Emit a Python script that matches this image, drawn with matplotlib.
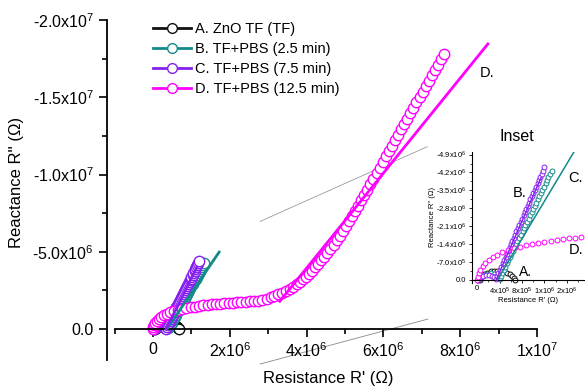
import matplotlib
matplotlib.use('Agg')
import numpy as np
import matplotlib.pyplot as plt
from matplotlib.lines import Line2D
from matplotlib.ticker import MultipleLocator

plt.rcParams['font.family'] = ['Liberation Sans', 'DejaVu Sans']
plt.rcParams['mathtext.fontset'] = 'custom'
plt.rcParams['mathtext.rm'] = 'Liberation Sans'
plt.rcParams['mathtext.it'] = 'Liberation Sans:italic'
plt.rcParams['mathtext.bf'] = 'Liberation Sans:bold'

# ---- data (values in MOhm) ----
a_x = [0.05, 0.06, 0.09, 0.13, 0.18, 0.24, 0.30, 0.36, 0.42, 0.48, 0.54, 0.59, 0.63, 0.66, 0.68]
a_y = [0.0, -0.08, -0.16, -0.23, -0.29, -0.33, -0.35, -0.36, -0.35, -0.33, -0.28, -0.22, -0.15, -0.08, 0.0]

b_x = [0.02, 0.05, 0.10, 0.17, 0.24, 0.31, 0.36, 0.40,
       0.42, 0.45, 0.48, 0.50, 0.53, 0.56, 0.59, 0.61, 0.64, 0.67, 0.70, 0.72, 0.75, 0.78, 0.81, 0.83,
       0.86, 0.89, 0.92, 0.94, 0.97, 1.00, 1.03, 1.05, 1.08, 1.11, 1.14, 1.16, 1.19, 1.22, 1.25, 1.27,
       1.30, 1.33]
b_y = [0.0, -0.12, -0.20, -0.25, -0.26, -0.22, -0.14, -0.05,
       -0.15, -0.27, -0.40, -0.52, -0.65, -0.77, -0.90, -1.02, -1.15, -1.27, -1.40, -1.52, -1.65, -1.77,
       -1.90, -2.02, -2.15, -2.27, -2.40, -2.52, -2.65, -2.77, -2.90, -3.02, -3.15, -3.27, -3.40, -3.52,
       -3.65, -3.77, -3.90, -4.02, -4.15, -4.27]

c_x = [0.02, 0.05, 0.10, 0.16, 0.22, 0.27, 0.31, 0.33,
       0.36, 0.38, 0.41, 0.43, 0.46, 0.48, 0.51, 0.53, 0.56, 0.58, 0.60, 0.63, 0.65, 0.68, 0.70, 0.73,
       0.75, 0.78, 0.80, 0.83, 0.85, 0.88, 0.90, 0.93, 0.95, 0.98, 1.00, 1.03, 1.05, 1.08, 1.10, 1.13,
       1.15, 1.18, 1.20]
c_y = [0.0, -0.10, -0.17, -0.21, -0.21, -0.17, -0.10, -0.02,
       -0.15, -0.27, -0.40, -0.52, -0.65, -0.77, -0.90, -1.02, -1.15, -1.27, -1.40, -1.52, -1.65, -1.77,
       -1.90, -2.02, -2.15, -2.27, -2.40, -2.52, -2.65, -2.77, -2.90, -3.02, -3.15, -3.27, -3.40, -3.52,
       -3.65, -3.77, -3.90, -4.02, -4.15, -4.27, -4.40]

d_x = [0.00, 0.01, 0.03, 0.06, 0.10, 0.15, 0.21, 0.28, 0.36, 0.45, 0.55, 0.65, 0.76, 0.87, 0.98,
       1.09, 1.20, 1.31, 1.42, 1.53, 1.64, 1.75, 1.86, 1.97, 2.08, 2.19, 2.30, 2.41, 2.52, 2.63, 2.74,
       2.85, 2.96, 3.06, 3.16, 3.26, 3.36, 3.46, 3.56, 3.65, 3.74, 3.82, 3.90, 3.98, 4.06, 4.14, 4.22,
       4.30, 4.38, 4.46, 4.54, 4.62, 4.70, 4.78, 4.86, 4.94, 5.02, 5.10, 5.18, 5.26, 5.34, 5.42, 5.50,
       5.58, 5.66, 5.74, 5.82, 5.90, 5.98, 6.06, 6.14, 6.22, 6.30, 6.38, 6.46, 6.54, 6.62, 6.70, 6.78,
       6.86, 6.94, 7.02, 7.10, 7.18, 7.26, 7.34, 7.42, 7.50, 7.58]
d_y = [0.00, -0.12, -0.26, -0.40, -0.53, -0.66, -0.78, -0.89, -0.99, -1.08, -1.16, -1.23, -1.30,
       -1.36, -1.41, -1.46, -1.50, -1.54, -1.57, -1.60, -1.63, -1.65, -1.68, -1.70, -1.72, -1.74, -1.76,
       -1.78, -1.80, -1.82, -1.85, -1.90, -1.97, -2.05, -2.14, -2.24, -2.35, -2.47, -2.60, -2.74, -2.89,
       -3.05, -3.22, -3.40, -3.59, -3.79, -4.00, -4.22, -4.45, -4.69, -4.94, -5.20, -5.47, -5.75, -6.04,
       -6.34, -6.65, -6.97, -7.30, -7.64, -7.98, -8.33, -8.68, -9.03, -9.38, -9.73, -10.09, -10.45,
       -10.81, -11.17, -11.52, -11.87, -12.22, -12.57, -12.92, -13.27, -13.62, -13.97, -14.32, -14.67,
       -15.02, -15.37, -15.72, -16.07, -16.42, -16.77, -17.12, -17.46, -17.80]

# linear fit lines (end points)
b_fit_x = [0.36, 1.72]
b_fit_y = [0.0, -4.98]
c_fit_x = [0.34, 1.14]
c_fit_y = [0.0, -4.0]
d_fit_x = [3.3, 8.72]
d_fit_y = [-1.8, -18.45]

# thin grey zoom guides
g1_x = [2.79, 7.14]
g1_y = [-6.97, -11.8]
g2_x = [2.79, 7.16]
g2_y = [2.26, -0.65]

labels = ['A. ZnO TF (TF)', 'B. TF+PBS (2.5 min)', 'C. TF+PBS (7.5 min)', 'D. TF+PBS (12.5 min)']
colors = ['#111111', '#138a8a', '#8620f0', '#ff00ff']

x_ticks = [0, 2e6, 4e6, 6e6, 8e6, 1e7]
x_tick_labels = ['0', '2x10$^6$', '4x10$^6$', '6x10$^6$', '8x10$^6$', '1x10$^7$']
y_ticks = [-2e7, -1.5e7, -1e7, -5e6, 0]
y_tick_labels = ['-2.0x10$^7$', '-1.5x10$^7$', '-1.0x10$^7$', '-5.0x10$^6$', '0.0']

in_x_ticks = [0, 4e5, 8e5, 1.2e6, 1.6e6]
in_x_tick_labels = ['0', '4x10$^5$', '8x10$^5$', '1x10$^6$', '2x10$^6$']
in_y_ticks = [0, -7e5, -1.4e6, -2.1e6, -2.8e6, -3.5e6, -4.2e6, -4.9e6]
in_y_tick_labels = ['0.0', '-7.0x10$^5$', '-1.4x10$^6$', '-2.1x10$^6$', '-2.8x10$^6$',
                    '-3.5x10$^6$', '-4.2x10$^6$', '-4.9x10$^6$']

M = 1e6
series = [(a_x, a_y), (b_x, b_y), (c_x, c_y), (d_x, d_y)]
fits = [(None, None), (b_fit_x, b_fit_y), (c_fit_x, c_fit_y), (d_fit_x, d_fit_y)]


def draw(ax, ms, mew, lw):
    for (sx, sy), (fx, fy), col in zip(series, fits, colors):
        sx = np.array(sx) * M
        sy = np.array(sy) * M
        if fx is None:
            ax.plot(sx, sy, '-', color=col, lw=lw, zorder=2)
        ax.plot(sx, sy, 'o', ls='none', ms=ms, mfc='white', mec=col, mew=mew, zorder=2)
        if fx is not None:
            ax.plot(np.array(fx) * M, np.array(fy) * M, '-', color=col, lw=lw, zorder=3)


fig = plt.figure(figsize=(5.85, 3.91), dpi=100)

# ---- main axes ----
ax = fig.add_axes([107 / 585, 31 / 391, 430 / 585, 340 / 391])
draw(ax, 7.5, 1.0, 2.0)
ax.plot(np.array(g1_x) * M, np.array(g1_y) * M, color='#999999', lw=0.6, zorder=1, clip_on=False)
ax.plot(np.array(g2_x) * M, np.array(g2_y) * M, color='#888888', lw=0.6, zorder=1, clip_on=False)

ax.set_xlim(-1.2e6, 1e7)
ax.set_ylim(2e6, -2e7)
for s in ['top', 'right']:
    ax.spines[s].set_visible(False)
ax.spines['bottom'].set_position(('data', 0))
ax.spines['bottom'].set_bounds(-1e6, 1e7)
ax.spines['bottom'].set_linewidth(1.3)
ax.spines['left'].set_linewidth(1.3)
ax.set_xticks(x_ticks, x_tick_labels)
ax.set_yticks(y_ticks, y_tick_labels)
ax.xaxis.set_minor_locator(MultipleLocator(1e6))
ax.yaxis.set_minor_locator(MultipleLocator(2.5e6))
ax.tick_params(which='major', direction='out', length=6, width=1.2, labelsize=11.5)
ax.tick_params(which='minor', direction='out', length=3.5, width=1.2)
ax.tick_params(axis='x', pad=3)
ax.text(8.52e6, -1.66e7, 'D.', fontsize=10.5, va='center', ha='left')

fig.text(17 / 585, 1 - 182 / 391, "Reactance R'' (\u03a9)", rotation=90, fontsize=12,
         ha='center', va='center')
fig.text(328 / 585, 1 - 378 / 391, "Resistance R' (\u03a9)", fontsize=12, ha='center', va='center')

handles = [Line2D([], [], color=c, lw=2, marker='o', ms=7, mfc='white', mec=c, mew=1.0) for c in colors]
fig.legend(handles, labels, loc='upper left', bbox_to_anchor=(147 / 585, 1 - 16 / 391),
           frameon=False, fontsize=10.5, handlelength=2.6, handletextpad=0.3,
           labelspacing=0.42, borderaxespad=0)

# ---- inset ----
ins = fig.add_axes([472 / 585, 108 / 391, 128 / 585, 131 / 391])
ins.patch.set_alpha(0)
draw(ins, 3.5, 0.7, 1.1)
ins.set_xlim(-0.09e6, 2.19e6)
ins.set_ylim(0.12e6, -5.0e6)
for s in ['top', 'right']:
    ins.spines[s].set_visible(False)
ins.spines['bottom'].set_position(('data', 0))
ins.spines['bottom'].set_linewidth(0.8)
ins.spines['left'].set_linewidth(0.8)
ins.set_xticks(in_x_ticks, in_x_tick_labels)
ins.set_yticks(in_y_ticks, in_y_tick_labels)
ins.xaxis.set_minor_locator(MultipleLocator(2e5))
ins.yaxis.set_minor_locator(MultipleLocator(3.5e5))
ins.tick_params(which='major', direction='out', length=2.5, width=0.6, labelsize=5.5, pad=1.5)
ins.tick_params(which='minor', direction='out', length=1.5, width=0.5)
ins.text(0.75e6, -0.31e6, 'A.', fontsize=10, va='center', ha='left')
ins.text(0.64e6, -3.38e6, 'B.', fontsize=10.5, va='center', ha='left')
ins.text(1.62e6, -4.0e6, 'C.', fontsize=10.5, va='center', ha='left')
ins.text(1.64e6, -1.17e6, 'D.', fontsize=10.5, va='center', ha='left')

fig.text(517 / 585, 1 - 137 / 391, 'Inset', fontsize=11.5, ha='center', va='center')
fig.text(433 / 585, 1 - 217 / 391, "Reactance R'' (\u03a9)", rotation=90, fontsize=5.5,
         ha='center', va='center')
fig.text(528 / 585, 1 - 301 / 391, "Resistance R' (\u03a9)", fontsize=5.5, ha='center', va='center')

fig.savefig('out.png', dpi=100)
